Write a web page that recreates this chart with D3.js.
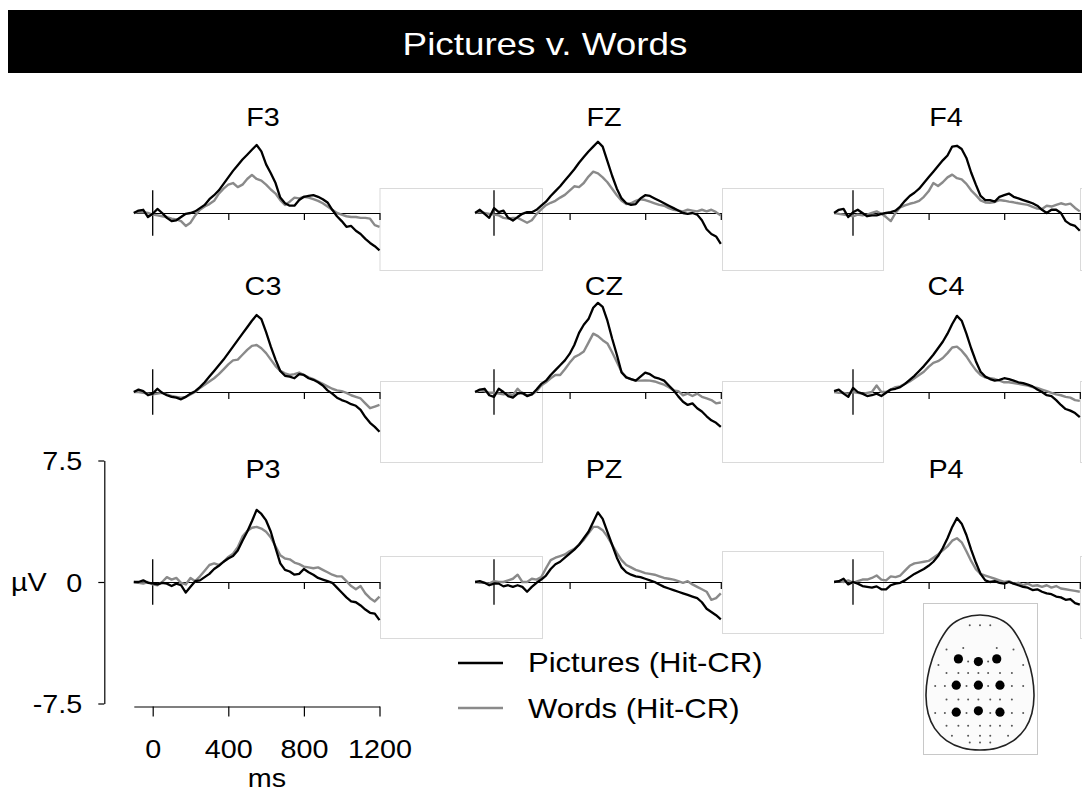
<!DOCTYPE html>
<html>
<head>
<meta charset="utf-8">
<script src="https://cdn.jsdelivr.net/npm/d3@7"></script>
<style>
  body { margin: 0; background: #fff; }
  svg { display: block; }
  text { font-family: "Liberation Sans", Arial, sans-serif; }
</style>
</head>
<body>
<svg id="chart"></svg>
<script>
// sample times (ms)
var times = [-100,-75,-50,-25,0,25,50,75,100,125,150,175,200,
  225,250,275,300,325,350,375,400,425,450,475,500,
  525,550,575,600,625,650,675,700,725,750,775,800,
  825,850,875,900,925,950,975,1000,1025,1050,1075,1100,
  1125,1150,1175,1200];

var electrodes = ["F3","FZ","F4","C3","CZ","C4","P3","PZ","P4"];
var seriesNames = ["Pictures (Hit-CR)", "Words (Hit-CR)"];
var xTicks = [0, 400, 800, 1200];
var yTicks = [-7.5, 0, 7.5];

// µV, Pictures (Hit-CR)
var picF3 = [0.0,0.15,0.2,-0.25,-0.05,0.25,0.0,-0.3,-0.5,-0.45,-0.25,-0.05,0.0,
  0.1,0.3,0.5,0.85,1.1,1.4,1.8,2.2,2.6,2.95,3.3,3.6,
  3.9,4.2,3.8,3.0,2.45,1.85,0.95,0.6,0.45,0.45,0.8,1.0,
  1.05,1.1,1.0,0.85,0.65,0.2,-0.2,-0.5,-0.85,-0.8,-1.1,-1.3,
  -1.6,-1.85,-2.05,-2.3];
var picFZ = [0.0,0.2,-0.05,-0.3,0.3,0.05,0.15,-0.3,-0.47,-0.25,-0.05,0.05,0.05,
  0.2,0.45,0.7,1.05,1.35,1.65,2.0,2.35,2.7,3.1,3.45,3.8,
  4.1,4.4,4.1,3.2,2.3,1.5,0.9,0.6,0.5,0.55,0.9,1.1,
  1.05,0.9,0.75,0.6,0.45,0.3,0.15,0.0,-0.05,0.0,-0.1,-0.45,
  -1.0,-1.3,-1.45,-1.9];
var picF4 = [0.0,0.2,0.25,-0.25,0.05,0.2,0.0,-0.2,-0.15,-0.15,-0.05,0.0,0.05,
  0.15,0.4,0.75,1.05,1.25,1.5,1.85,2.2,2.55,2.9,3.25,3.55,
  4.1,4.15,3.95,3.4,2.5,1.75,1.05,0.8,0.8,0.7,1.0,1.1,
  1.2,1.0,0.9,0.8,0.7,0.6,0.45,0.2,0.0,0.2,0.2,0.0,
  -0.5,-0.7,-0.8,-1.1];
var picC3 = [0.0,0.15,0.05,-0.2,-0.1,0.2,-0.05,-0.2,-0.3,-0.35,-0.45,-0.3,-0.1,
  0.05,0.3,0.6,0.95,1.3,1.65,2.0,2.4,2.8,3.2,3.6,4.0,
  4.4,4.75,4.5,3.7,2.8,2.0,1.3,1.0,0.95,0.85,1.1,1.05,
  0.85,0.75,0.6,0.4,0.1,-0.1,-0.35,-0.5,-0.6,-0.75,-0.85,-1.1,
  -1.55,-1.9,-2.15,-2.45];
var picCZ = [0.0,0.15,0.2,-0.2,-0.3,0.2,0.0,-0.25,-0.35,-0.1,-0.05,-0.25,-0.15,
  0.15,0.5,0.7,1.05,1.35,1.65,1.95,2.35,2.9,3.65,4.15,4.5,
  5.2,5.5,5.25,4.4,3.3,2.3,1.2,0.9,0.8,0.7,0.95,1.2,
  1.1,0.9,0.82,0.7,0.4,0.1,-0.27,-0.6,-0.8,-0.7,-1.0,-1.2,
  -1.5,-1.75,-1.9,-2.15];
var picC4 = [0.05,0.15,-0.1,-0.3,0.25,0.0,-0.1,-0.25,-0.2,-0.1,-0.25,-0.05,0.15,
  0.2,0.3,0.5,0.75,1.0,1.3,1.6,1.95,2.3,2.7,3.1,3.6,
  4.2,4.7,4.4,3.6,2.7,1.9,1.25,0.95,0.8,0.7,0.75,0.85,
  0.8,0.7,0.6,0.55,0.45,0.35,0.15,0.0,-0.2,-0.25,-0.5,-0.8,
  -1.05,-1.15,-1.3,-1.55];
var picP3 = [0.0,0.0,0.1,-0.05,-0.08,-0.15,-0.05,-0.1,-0.25,-0.1,-0.2,-0.65,-0.3,
  0.05,0.1,0.3,0.5,0.8,1.0,1.25,1.45,1.6,1.95,2.55,3.1,
  3.75,4.45,4.2,3.8,3.1,2.1,1.15,0.75,0.65,0.45,0.5,0.8,
  0.6,0.45,0.25,0.15,0.05,-0.05,-0.35,-0.65,-0.95,-1.2,-1.25,-1.45,
  -1.7,-1.9,-1.95,-2.35];
var picPZ = [0.0,0.05,-0.05,-0.2,-0.1,-0.1,-0.27,-0.2,-0.3,-0.2,-0.3,-0.6,-0.3,
  -0.05,0.15,0.4,0.8,1.1,1.25,1.5,1.75,2.0,2.3,2.7,3.1,
  3.7,4.3,3.9,3.1,2.3,1.5,0.9,0.6,0.45,0.35,0.3,0.2,
  0.1,0.0,-0.15,-0.3,-0.4,-0.5,-0.6,-0.7,-0.8,-0.9,-1.0,-1.25,
  -1.65,-1.85,-2.05,-2.3];
var picP4 = [0.0,0.05,0.2,-0.15,0.0,-0.1,-0.25,-0.3,-0.35,-0.27,-0.45,-0.45,-0.2,
  -0.1,-0.05,0.1,0.3,0.5,0.65,0.8,1.0,1.25,1.6,2.1,2.7,
  3.4,3.95,3.6,2.9,2.0,1.2,0.5,0.1,0.0,0.05,-0.05,-0.1,
  0.0,-0.1,-0.2,-0.3,-0.35,-0.5,-0.45,-0.6,-0.7,-0.75,-0.9,-0.95,
  -1.1,-1.05,-1.3,-1.4];

// µV, Words (Hit-CR)
var wrdF3 = [0.0,0.05,0.05,0.0,-0.1,-0.15,-0.2,-0.25,-0.35,-0.4,-0.5,-0.8,-0.6,
  -0.15,0.2,0.4,0.55,0.75,1.2,1.5,1.75,1.85,1.6,1.75,2.1,
  2.35,2.1,2.0,1.75,1.45,1.2,0.8,0.5,0.7,0.95,0.9,1.0,
  0.95,0.85,0.75,0.6,0.4,0.2,0.0,-0.1,-0.2,-0.25,-0.25,-0.3,
  -0.3,-0.35,-0.75,-0.85];
var wrdFZ = [0.0,0.05,0.0,-0.05,-0.1,-0.15,-0.3,-0.35,-0.3,-0.3,-0.45,-0.6,-0.45,
  -0.07,0.22,0.48,0.63,0.75,0.95,1.12,1.38,1.65,1.6,1.85,2.25,
  2.55,2.45,2.2,1.9,1.5,1.1,0.75,0.55,0.6,0.75,0.85,0.8,
  0.7,0.6,0.5,0.45,0.3,0.2,0.15,0.1,0.2,0.15,0.1,0.2,
  0.1,0.2,0.05,-0.15];
var wrdF4 = [0.0,-0.05,-0.1,-0.15,-0.2,-0.1,-0.15,-0.1,0.0,0.1,-0.05,-0.25,-0.5,
  0.0,0.35,0.47,0.57,0.64,0.75,1.0,1.34,1.85,1.67,1.9,2.2,
  2.37,2.15,2.08,1.8,1.4,1.1,0.78,0.65,0.63,0.68,0.8,0.76,
  0.7,0.66,0.6,0.55,0.5,0.38,0.27,0.25,0.45,0.4,0.5,0.6,
  0.52,0.58,0.31,0.1];
var wrdC3 = [0.0,0.0,-0.05,-0.1,-0.15,-0.1,-0.05,-0.15,-0.25,-0.3,-0.35,-0.3,-0.15,
  0.0,0.25,0.45,0.65,0.85,1.1,1.4,1.7,1.95,2.0,2.3,2.6,
  2.85,2.9,2.7,2.4,2.0,1.6,1.3,1.15,1.05,1.1,1.2,1.05,
  0.9,0.8,0.65,0.5,0.35,0.2,0.1,0.05,-0.05,-0.2,-0.3,-0.4,
  -0.7,-1.0,-0.9,-0.8];
var wrdCZ = [0.0,0.1,0.05,-0.05,-0.05,-0.1,-0.15,-0.1,-0.2,0.2,-0.1,-0.2,-0.15,
  0.05,0.4,0.6,0.85,1.05,1.05,1.4,1.8,2.15,2.3,2.5,3.05,
  3.6,3.45,3.2,3.0,2.45,1.85,1.25,0.9,0.8,0.7,0.7,0.72,
  0.7,0.65,0.55,0.45,0.3,0.1,0.05,-0.2,-0.1,-0.25,-0.1,-0.3,
  -0.4,-0.5,-0.7,-0.65];
var wrdC4 = [0.0,-0.05,-0.05,-0.1,0.0,-0.05,-0.1,-0.05,0.0,0.4,0.0,0.0,0.15,
  0.3,0.35,0.5,0.65,0.85,1.05,1.25,1.55,1.8,1.9,2.1,2.4,
  2.75,2.8,2.55,2.2,1.75,1.35,1.05,0.9,0.85,0.8,0.7,0.6,
  0.6,0.55,0.5,0.45,0.4,0.3,0.25,0.15,0.05,-0.05,-0.15,-0.2,
  -0.3,-0.35,-0.5,-0.55];
var wrdP3 = [0.0,-0.05,-0.1,0.0,-0.15,-0.2,0.0,0.3,0.15,0.25,-0.05,-0.15,0.25,
  0.05,0.35,0.7,1.05,1.15,1.05,1.25,1.55,1.75,2.15,2.8,3.15,
  3.35,3.4,3.3,3.1,2.75,2.2,1.65,1.45,1.4,1.2,1.1,0.95,
  0.9,0.85,0.9,0.75,0.6,0.45,0.35,0.35,0.05,-0.25,-0.45,-0.25,
  -0.7,-1.0,-1.2,-0.9];
var wrdPZ = [0.0,-0.05,-0.05,-0.1,0.05,0.0,0.0,0.1,0.2,0.45,0.0,0.0,0.2,
  0.15,0.3,0.85,1.35,1.5,1.6,1.7,1.9,2.05,2.3,2.6,3.0,
  3.4,3.4,3.2,2.8,2.3,1.8,1.35,1.05,0.9,0.75,0.65,0.55,
  0.5,0.45,0.35,0.25,0.2,0.15,0.05,-0.05,0.05,-0.15,-0.3,-0.45,
  -0.6,-1.1,-1.0,-0.7];
var wrdP4 = [0.0,0.05,0.0,0.1,-0.05,0.05,0.15,0.15,0.25,0.4,0.15,0.1,0.35,
  0.3,0.4,0.7,1.0,1.15,1.2,1.25,1.3,1.5,1.7,1.95,2.2,
  2.55,2.7,2.45,1.9,1.3,0.8,0.5,0.4,0.3,0.2,0.1,0.0,
  0.05,-0.1,-0.05,-0.2,-0.1,-0.25,-0.2,-0.3,-0.2,-0.35,-0.25,-0.4,
  -0.45,-0.5,-0.55,-0.6];

// scalp map sites, normalized to the head outline
var headOutline = [[0,-1],[0.3,-0.96],[0.55,-0.84],[0.74,-0.62],[0.88,-0.36],[0.97,-0.08],
  [1,0.2],[0.96,0.46],[0.84,0.68],[0.62,0.86],[0.32,0.97],[0,1],[-0.32,0.97],[-0.62,0.86],
  [-0.84,0.68],[-0.96,0.46],[-1,0.2],[-0.97,-0.08],[-0.88,-0.36],[-0.74,-0.62],[-0.55,-0.84],[-0.3,-0.96]];
var sitesShown = [[-0.4,-0.35],[-0.03,-0.31],[0.31,-0.35],[-0.44,0.04],[-0.03,0.04],[0.37,0.04],
  [-0.44,0.44],[-0.03,0.42],[0.37,0.44]];
var sitesOther = [[-0.19,-0.85],[0,-0.85],[0.19,-0.85],
  [-0.62,-0.49],[-0.31,-0.51],[0.31,-0.51],[0.62,-0.49],
  [-0.77,-0.26],[-0.22,-0.31],[0.15,-0.31],[0.8,-0.26],
  [-0.62,-0.14],[-0.4,-0.14],[-0.22,-0.14],[-0.03,-0.14],[0.15,-0.14],[0.37,-0.14],[0.59,-0.14],
  [-0.83,0.05],[-0.65,0.05],[-0.25,0.05],[0.15,0.05],[0.59,0.05],[0.8,0.05],
  [-0.62,0.25],[-0.4,0.25],[-0.22,0.25],[-0.03,0.25],[0.19,0.25],[0.37,0.25],[0.59,0.25],
  [-0.83,0.45],[-0.65,0.45],[-0.25,0.45],[0.19,0.45],[0.59,0.45],[0.8,0.45],
  [-0.62,0.64],[-0.4,0.64],[-0.22,0.64],[0,0.64],[0.19,0.64],[0.37,0.64],[0.59,0.64],
  [-0.52,0.79],[-0.22,0.79],[0,0.79],[0.19,0.79],[0.52,0.79],
  [-0.19,0.89],[0,0.89],[0.19,0.89]];

var pictures = [picF3, picFZ, picF4, picC3, picCZ, picC4, picP3, picPZ, picP4];
var words = [wrdF3, wrdFZ, wrdF4, wrdC3, wrdCZ, wrdC4, wrdP3, wrdPZ, wrdP4];

var width = 1082, height = 792;
var black = "#000", grey = "#8a8a8a";
var stretch = "scale(1.15,1)";

var svg = d3.select("#chart").attr("width", width).attr("height", height);

// layout of the 3x3 grid
var colZero = [152.7, 494, 853],
    rowZero = [213, 392, 582],
    titleX = [263, 604, 946],
    titleY = [126, 295, 478];
var pxPerMs = 0.189, pxPerUv = 16.2;

function xScale(c) {
    return d3.scaleLinear().domain([-100, 1200])
        .range([colZero[c] - 100 * pxPerMs, colZero[c] + 1200 * pxPerMs]);
}
function yScale(r) {
    return d3.scaleLinear().domain([-7.5, 7.5])
        .range([rowZero[r] + 7.5 * pxPerUv, rowZero[r] - 7.5 * pxPerUv]);
}

// title bar
svg.append("rect").attr("x", 8).attr("y", 10).attr("width", width - 8).attr("height", 63).attr("fill", "#000");
svg.append("text")
    .attr("transform", "translate(545,55) " + stretch)
    .attr("text-anchor", "middle").attr("font-size", 32).attr("fill", "#fff")
    .text("Pictures v. Words");

// faint frames left over between panels
var frames = [
    [379.5, 188, 542, 270], [380, 381, 542, 462], [380, 556, 542, 638],
    [722, 188, 883, 270], [722, 381, 883, 462], [722, 551, 883, 633],
    [1080, 188, 1240, 270], [1080, 381, 1240, 462], [1080, 556, 1240, 638]
];
svg.append("g").selectAll("rect").data(frames).enter().append("rect")
    .attr("x", d => d[0] + 0.5).attr("y", d => d[1] + 0.5)
    .attr("width", d => d[2] - d[0]).attr("height", d => d[3] - d[1])
    .attr("fill", "none").attr("stroke", "#dadada").attr("stroke-width", 1);

electrodes.forEach(function(name, i) {
    var c = i % 3, r = Math.floor(i / 3);
    var x = xScale(c), y = yScale(r);
    var g = svg.append("g");

    // zero line with ticks
    var ax = g.append("g").attr("transform", "translate(0," + y(0) + ")")
        .call(d3.axisBottom(x).tickValues([400, 800, 1200]).tickSize(7).tickSizeOuter(0).tickFormat(""));
    ax.selectAll("path, line").attr("stroke", "#000").attr("stroke-width", 1.2);

    // stimulus onset
    g.append("line")
        .attr("x1", x(0)).attr("x2", x(0))
        .attr("y1", y(1.4)).attr("y2", y(-1.4))
        .attr("stroke", "#000").attr("stroke-width", 1.3);

    var line = d3.line().x((d, k) => x(times[k])).y(d => y(d));

    g.append("path").datum(words[i]).attr("d", line)
        .attr("fill", "none").attr("stroke", grey).attr("stroke-width", 2.4)
        .attr("stroke-linejoin", "round");
    g.append("path").datum(pictures[i]).attr("d", line)
        .attr("fill", "none").attr("stroke", black).attr("stroke-width", 2.3)
        .attr("stroke-linejoin", "round");

    g.append("text")
        .attr("transform", "translate(" + titleX[c] + "," + titleY[r] + ") " + stretch)
        .attr("text-anchor", "middle").attr("font-size", 25)
        .text(name);
});

// scale axes (bottom-left panel)
var x0 = xScale(0), y2 = yScale(2);

var yAx = svg.append("g").attr("transform", "translate(104.3,0)")
    .call(d3.axisLeft(y2).tickValues(yTicks).tickSize(6).tickSizeOuter(0).tickFormat(d => String(d)));
yAx.selectAll("path, line").attr("stroke", "#000").attr("stroke-width", 1.2);
yAx.selectAll("text").attr("font-size", 25).attr("font-family", "Liberation Sans, Arial, sans-serif")
    .attr("x", -22 / 1.15).attr("dy", "0.36em").attr("transform", stretch).attr("fill", "#000");

var xAx = svg.append("g").attr("transform", "translate(0,706.5)")
    .call(d3.axisBottom(x0).tickValues(xTicks).tickSize(10).tickSizeOuter(0).tickFormat(d => String(d)));
xAx.selectAll("path, line").attr("stroke", "#000").attr("stroke-width", 1.2);
xAx.selectAll("text").attr("font-size", 25).attr("font-family", "Liberation Sans, Arial, sans-serif")
    .attr("y", 51.5).attr("dy", 0).attr("transform", stretch).attr("fill", "#000");

svg.append("text").attr("transform", "translate(11,591) " + stretch)
    .attr("font-size", 25).text("µV");
svg.append("text").attr("transform", "translate(267,787) " + stretch)
    .attr("text-anchor", "middle").attr("font-size", 25).text("ms");

// legend
var legend = svg.append("g");
[[663, black, 672], [708, grey, 718]].forEach(function(row, k) {
    legend.append("line").attr("x1", 458).attr("x2", 503)
        .attr("y1", row[0]).attr("y2", row[0])
        .attr("stroke", row[1]).attr("stroke-width", 2.4);
    legend.append("text").attr("transform", "translate(528," + row[2] + ") " + stretch)
        .attr("font-size", 27).text(seriesNames[k]);
});

// scalp map inset
svg.append("rect").attr("x", 923.5).attr("y", 603.5).attr("width", 114).attr("height", 151)
    .attr("fill", "#fff").attr("stroke", "#c8c8c8");
var sx = d3.scaleLinear().domain([-1, 1]).range([926, 1034]),
    sy = d3.scaleLinear().domain([-1, 1]).range([615, 750]);
svg.append("path").datum(headOutline)
    .attr("d", d3.line().x(d => sx(d[0])).y(d => sy(d[1])).curve(d3.curveCardinalClosed))
    .attr("fill", "#fbfbfb").attr("stroke", "#222").attr("stroke-width", 1.6);
svg.append("g").selectAll("circle").data(sitesOther).enter().append("circle")
    .attr("cx", d => sx(d[0])).attr("cy", d => sy(d[1])).attr("r", 1).attr("fill", "#555");
svg.append("g").selectAll("circle").data(sitesShown).enter().append("circle")
    .attr("cx", d => sx(d[0])).attr("cy", d => sy(d[1])).attr("r", 4.6).attr("fill", "#000");
</script>
</body>
</html>
